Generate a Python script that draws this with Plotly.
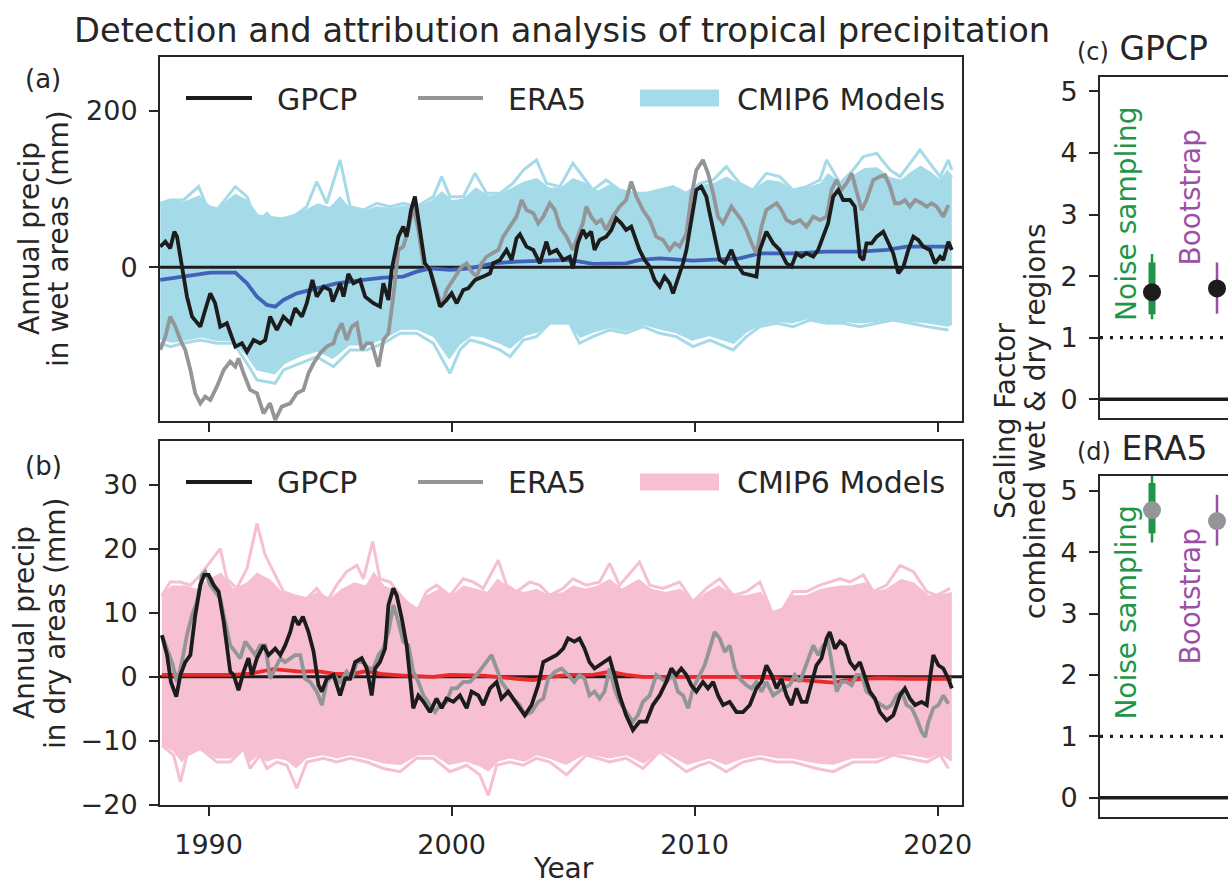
import plotly.graph_objects as go

# ---------------- data ----------------
YEAR_TICKS = [1990, 2000, 2010, 2020]
X_RANGE = [1988.0, 2021.0]

# (a) wet areas: (year, mm) pairs
GPCP_WET = [(1988.01,26.4),(1988.22,32.8),(1988.42,24.3),(1988.59,45.6),(1988.70,39.2),(1988.90,0.9),(1989.11,-37.5),(1989.32,-63.1),(1989.66,-75.9),(1989.86,-54.6),(1990.07,-33.3),(1990.27,-46.0),(1990.48,-75.9),(1990.75,-71.6),(1990.96,-88.7),(1991.10,-101.5),(1991.37,-97.2),(1991.58,-107.9),(1991.85,-93.0),(1992.12,-97.2),(1992.33,-93.0),(1992.53,-63.1),(1992.81,-80.2),(1993.08,-63.1),(1993.36,-71.6),(1993.56,-52.4),(1993.84,-63.1),(1994.04,-46.0),(1994.27,-16.2),(1994.45,-37.5),(1994.73,-24.7),(1995.00,-29.0),(1995.11,-43.9),(1995.41,-20.5),(1995.55,-37.5),(1995.75,-8.5),(1995.96,-20.5),(1996.23,-16.2),(1996.44,-37.5),(1996.78,-46.0),(1997.05,-50.3),(1997.19,-20.5),(1997.40,-41.8),(1997.53,-3.4),(1997.81,39.2),(1998.01,52.0),(1998.15,39.2),(1998.33,73.3),(1998.49,90.4),(1998.70,47.8),(1998.90,5.1),(1999.11,-3.4),(1999.32,-29.0),(1999.52,-50.3),(1999.79,-41.8),(2000.00,-33.3),(2000.21,-46.0),(2000.48,-29.0),(2000.68,-26.9),(2000.96,-16.2),(2001.30,-11.9),(2001.58,-7.7),(2001.71,5.1),(2001.99,9.4),(2002.26,22.2),(2002.47,9.4),(2002.67,37.1),(2002.81,42.2),(2003.08,26.4),(2003.36,22.2),(2003.63,5.1),(2003.90,32.8),(2004.04,17.9),(2004.32,22.2),(2004.59,9.4),(2004.86,13.6),(2004.99,-1.3),(2005.19,30.7),(2005.40,47.8),(2005.54,39.2),(2005.74,45.6),(2005.88,22.2),(2006.09,35.0),(2006.36,39.2),(2006.57,47.8),(2006.77,62.7),(2006.98,56.3),(2007.18,47.8),(2007.39,52.0),(2007.53,39.2),(2007.73,22.2),(2007.94,9.4),(2008.15,0.9),(2008.35,-16.2),(2008.56,-24.7),(2008.76,-11.9),(2008.97,-20.5),(2009.11,-33.3),(2009.31,-16.2),(2009.52,5.1),(2009.66,22.2),(2009.86,56.3),(2010.07,98.9),(2010.27,103.2),(2010.48,90.4),(2010.62,69.1),(2010.82,39.2),(2011.03,9.4),(2011.24,5.1),(2011.51,22.2),(2011.72,5.1),(2011.99,-7.7),(2012.27,-9.8),(2012.54,-11.9),(2012.68,22.2),(2012.95,45.6),(2013.23,30.7),(2013.50,22.2),(2013.78,5.1),(2013.98,0.9),(2014.19,17.9),(2014.40,13.6),(2014.60,17.9),(2014.88,13.6),(2015.08,22.2),(2015.29,39.2),(2015.49,56.3),(2015.70,90.4),(2015.91,98.9),(2016.11,86.1),(2016.39,86.1),(2016.59,77.6),(2016.80,13.6),(2016.94,9.4),(2017.07,30.7),(2017.28,30.7),(2017.49,39.2),(2017.76,45.6),(2017.97,30.7),(2018.17,17.9),(2018.38,-7.7),(2018.59,0.9),(2018.79,22.2),(2019.00,39.2),(2019.20,35.0),(2019.41,26.4),(2019.68,22.2),(2019.89,5.1),(2020.10,13.6),(2020.23,9.4),(2020.44,32.8),(2020.58,22.2)]

ERA5_WET = [(1988.01,-105.7),(1988.22,-88.7),(1988.42,-63.1),(1988.63,-75.9),(1988.84,-93.0),(1989.04,-105.7),(1989.25,-131.3),(1989.45,-161.2),(1989.66,-174.0),(1989.86,-165.4),(1990.07,-169.7),(1990.34,-152.7),(1990.62,-131.3),(1990.89,-120.7),(1991.10,-127.1),(1991.23,-116.4),(1991.44,-135.6),(1991.71,-156.9),(1991.99,-161.2),(1992.26,-186.8),(1992.53,-174.0),(1992.74,-195.3),(1993.01,-178.2),(1993.36,-174.0),(1993.63,-161.2),(1993.90,-156.9),(1994.11,-135.6),(1994.32,-122.8),(1994.59,-110.0),(1994.86,-101.5),(1995.14,-97.2),(1995.27,-84.4),(1995.48,-71.6),(1995.68,-93.0),(1995.89,-75.9),(1996.10,-71.6),(1996.30,-105.7),(1996.51,-97.2),(1996.71,-97.2),(1996.99,-127.1),(1997.19,-93.0),(1997.40,-84.4),(1997.60,-37.5),(1997.81,22.2),(1998.01,26.4),(1998.22,47.8),(1998.42,77.6),(1998.63,47.8),(1998.84,5.1),(1999.11,-3.4),(1999.38,-29.0),(1999.59,-50.3),(1999.79,-29.0),(2000.07,-16.2),(2000.41,0.9),(2000.62,5.1),(2000.82,-5.5),(2001.03,-11.9),(2001.23,5.1),(2001.44,13.6),(2001.71,17.9),(2001.92,22.2),(2002.12,39.2),(2002.40,52.0),(2002.67,64.8),(2002.88,86.1),(2003.08,73.3),(2003.36,69.1),(2003.56,56.3),(2003.77,64.8),(2004.04,81.9),(2004.25,73.3),(2004.45,52.0),(2004.73,39.2),(2004.99,22.2),(2005.19,39.2),(2005.40,56.3),(2005.54,77.6),(2005.74,64.8),(2005.95,56.3),(2006.15,60.5),(2006.36,47.8),(2006.63,64.8),(2006.91,77.6),(2007.18,86.1),(2007.39,109.6),(2007.60,90.4),(2007.87,73.3),(2008.15,60.5),(2008.42,39.2),(2008.70,35.0),(2008.97,22.2),(2009.18,30.7),(2009.38,26.4),(2009.66,43.5),(2009.86,90.4),(2010.07,124.5),(2010.34,137.3),(2010.55,120.2),(2010.76,94.7),(2010.96,64.8),(2011.17,56.3),(2011.37,69.1),(2011.51,77.6),(2011.72,69.1),(2011.92,60.5),(2012.13,47.8),(2012.34,30.7),(2012.54,17.9),(2012.75,52.0),(2012.95,73.3),(2013.16,77.6),(2013.37,81.9),(2013.57,73.3),(2013.78,60.5),(2014.05,56.3),(2014.33,60.5),(2014.60,52.0),(2014.88,64.8),(2015.15,60.5),(2015.43,64.8),(2015.63,98.9),(2015.84,111.7),(2016.04,98.9),(2016.25,107.5),(2016.46,120.2),(2016.66,98.9),(2016.87,73.3),(2017.07,86.1),(2017.35,111.7),(2017.62,116.0),(2017.83,118.1),(2018.04,103.2),(2018.24,81.9),(2018.45,81.9),(2018.65,86.1),(2018.86,77.6),(2019.07,86.1),(2019.34,81.9),(2019.55,77.6),(2019.75,81.9),(2019.96,77.6),(2020.23,64.8),(2020.44,79.7)]

MEAN_WET = [(1988.01,-16.2),(1988.97,-11.9),(1990.07,-6.8),(1991.10,-6.8),(1991.58,-20.5),(1991.99,-37.5),(1992.40,-48.2),(1992.74,-50.3),(1993.08,-41.8),(1993.63,-33.3),(1994.45,-26.9),(1995.27,-20.5),(1996.37,-16.2),(1997.19,-13.2),(1998.01,-11.9),(1998.56,-5.5),(1999.11,-1.3),(1999.93,-3.4),(2000.75,-1.3),(2001.71,5.1),(2002.67,7.2),(2003.77,8.5),(2004.86,9.4),(2005.81,4.3),(2007.18,5.1),(2007.73,9.4),(2008.56,11.5),(2009.93,8.5),(2011.03,10.2),(2011.85,11.5),(2012.68,17.9),(2014.05,17.9),(2015.43,20.0),(2016.80,20.0),(2017.90,22.2),(2018.72,26.4),(2019.55,26.4),(2020.58,26.4)]

# edges of the densely overlapping part of the model ensemble
ENS_WET_HI = [(1988.01,80),(1988.5,84),(1989.0,82),(1989.6,90),(1990.0,78),(1990.4,74),(1991.1,92),(1991.6,84),(1992.0,66),(1992.5,64),(1993.0,62),(1993.5,66),(1994.0,72),(1994.5,80),(1995.0,75),(1995.4,88),(1995.8,74),(1996.4,70),(1996.9,76),(1997.5,74),(1998.0,77),(1998.6,75),(1999.2,84),(1999.6,95),(2000.0,84),(2000.5,86),(2001.0,100),(2001.5,90),(2002.0,92),(2002.5,100),(2003.0,108),(2003.5,112),(2004.0,100),(2004.5,100),(2005.0,112),(2005.5,106),(2006.0,96),(2006.5,104),(2007.0,96),(2007.5,92),(2008.0,92),(2008.6,96),(2009.1,100),(2009.7,94),(2010.2,103),(2010.8,106),(2011.3,114),(2011.9,104),(2012.4,98),(2013.0,110),(2013.5,108),(2014.0,98),(2014.6,100),(2015.2,106),(2015.5,118),(2016.0,106),(2016.5,115),(2017.0,125),(2017.5,126),(2018.0,114),(2018.5,110),(2018.9,120),(2019.3,128),(2019.7,120),(2020.1,110),(2020.4,122),(2020.58,115)]
ENS_WET_LO = [(1988.01,-90),(1988.5,-95),(1989.0,-92),(1989.7,-88),(1990.3,-92),(1991.0,-93),(1991.6,-112),(1992.0,-130),(1992.7,-135),(1993.1,-122),(1993.8,-112),(1994.5,-106),(1995.1,-115),(1995.8,-98),(1996.5,-98),(1997.2,-90),(1997.9,-78),(1998.6,-78),(1999.3,-88),(1999.9,-115),(2000.3,-98),(2000.8,-86),(2001.3,-88),(2002.0,-96),(2002.4,-102),(2003.0,-86),(2003.5,-82),(2004.0,-70),(2004.9,-70),(2005.3,-88),(2005.8,-82),(2006.5,-76),(2007.2,-80),(2007.9,-72),(2008.6,-78),(2009.2,-82),(2009.9,-92),(2010.6,-86),(2011.6,-96),(2012.1,-82),(2012.7,-72),(2013.4,-68),(2014.0,-70),(2014.7,-64),(2015.4,-68),(2016.1,-68),(2016.8,-70),(2017.5,-68),(2018.2,-64),(2018.9,-68),(2019.6,-70),(2020.4,-74),(2020.58,-72)]
# outermost individual model lines
ENS_WET_OUT_HI = [(1988.01,81.9),(1988.42,86.1),(1988.97,86.1),(1989.59,103.2),(1989.93,77.6),(1990.34,73.3),(1991.10,103.2),(1991.58,90.4),(1991.99,56.3),(1992.40,69.1),(1992.81,56.3),(1993.49,64.8),(1994.04,77.6),(1994.45,109.6),(1994.86,81.9),(1995.41,137.3),(1995.82,77.6),(1996.37,73.3),(1996.92,81.9),(1997.47,77.6),(1998.01,81.9),(1998.56,77.6),(1999.25,90.4),(1999.59,116.0),(1999.93,90.4),(2000.48,90.4),(2000.96,120.2),(2001.44,94.7),(2001.99,94.7),(2002.53,107.5),(2002.95,124.5),(2003.49,137.3),(2003.90,107.5),(2004.45,103.2),(2004.99,133.0),(2005.40,116.0),(2005.81,98.9),(2006.36,111.7),(2006.91,98.9),(2007.46,94.7),(2008.01,94.7),(2008.56,98.9),(2009.11,103.2),(2009.66,94.7),(2010.21,107.5),(2010.76,111.7),(2011.30,128.8),(2011.85,107.5),(2012.40,98.9),(2012.95,120.2),(2013.50,116.0),(2014.05,98.9),(2014.60,103.2),(2015.15,111.7),(2015.43,137.3),(2015.98,107.5),(2016.52,124.5),(2016.94,141.6),(2017.49,145.8),(2018.04,124.5),(2018.45,116.0),(2018.86,133.0),(2019.27,150.1),(2019.68,133.0),(2020.10,116.0),(2020.44,137.3),(2020.58,124.5)]
ENS_WET_OUT_LO = [(1988.01,-97.2),(1988.42,-101.5),(1988.97,-97.2),(1989.66,-93.0),(1990.34,-97.2),(1991.03,-97.2),(1991.58,-122.8),(1991.99,-144.1),(1992.74,-148.4),(1993.08,-131.3),(1993.77,-122.8),(1994.45,-114.3),(1995.14,-127.1),(1995.82,-105.7),(1996.51,-105.7),(1997.19,-97.2),(1997.88,-84.4),(1998.56,-84.4),(1999.25,-97.2),(1999.93,-135.6),(2000.34,-105.7),(2000.75,-93.0),(2001.30,-97.2),(2001.99,-105.7),(2002.40,-114.3),(2002.95,-93.0),(2003.49,-88.7),(2004.04,-71.6),(2004.86,-71.6),(2005.26,-97.2),(2005.81,-88.7),(2006.50,-80.2),(2007.18,-84.4),(2007.87,-75.9),(2008.56,-84.4),(2009.24,-88.7),(2009.93,-101.5),(2010.62,-93.0),(2011.58,-105.7),(2012.13,-88.7),(2012.68,-75.9),(2013.37,-71.6),(2014.05,-75.9),(2014.74,-67.4),(2015.43,-71.6),(2016.11,-71.6),(2016.80,-75.9),(2017.49,-71.6),(2018.17,-67.4),(2018.86,-71.6),(2019.55,-75.9),(2020.44,-80.2)]

# (b) dry areas
GPCP_DRY = [(1988.08,6.5),(1988.29,3.4),(1988.45,-0.8),(1988.67,-3.1),(1988.84,0.3),(1989.04,2.3),(1989.25,3.4),(1989.45,9.6),(1989.66,14.3),(1989.82,15.9),(1990.00,15.9),(1990.21,14.3),(1990.41,13.3),(1990.62,8.6),(1990.89,0.8),(1991.03,0.3),(1991.23,-2.1),(1991.44,0.8),(1991.64,2.9),(1991.78,0.3),(1991.99,2.9),(1992.26,4.9),(1992.47,3.4),(1992.74,4.4),(1992.95,3.4),(1993.15,4.9),(1993.36,7.0),(1993.52,9.4),(1993.70,8.1),(1993.88,9.4),(1994.11,7.0),(1994.32,3.9),(1994.52,-1.3),(1994.66,-2.3),(1994.86,-0.3),(1995.14,0.3),(1995.41,-2.9),(1995.62,-0.3),(1995.82,-0.3),(1996.03,2.3),(1996.30,2.9),(1996.51,1.3),(1996.71,-2.9),(1996.85,1.3),(1997.05,2.3),(1997.26,4.4),(1997.40,11.2),(1997.60,13.8),(1997.74,12.7),(1997.95,9.1),(1998.15,4.9),(1998.42,-4.9),(1998.63,-2.9),(1998.84,-3.9),(1999.11,-5.5),(1999.38,-3.4),(1999.59,-4.9),(1999.79,-3.4),(2000.07,-3.9),(2000.34,-2.9),(2000.62,-4.9),(2000.82,-2.3),(2001.10,-2.9),(2001.30,-4.4),(2001.58,-1.8),(2001.85,-0.8),(2002.05,-3.4),(2002.33,-2.3),(2002.53,-3.4),(2002.81,-4.9),(2003.01,-6.0),(2003.29,-4.4),(2003.56,-1.3),(2003.77,2.3),(2004.04,2.9),(2004.32,3.4),(2004.59,4.4),(2004.79,6.0),(2005.05,5.5),(2005.26,6.0),(2005.47,4.4),(2005.67,2.3),(2005.88,1.3),(2006.09,1.8),(2006.29,2.3),(2006.50,2.9),(2006.70,0.3),(2006.91,-2.9),(2007.18,-6.0),(2007.46,-8.3),(2007.73,-7.0),(2008.01,-7.0),(2008.28,-4.4),(2008.56,-2.9),(2008.83,-0.8),(2009.04,1.3),(2009.24,0.3),(2009.45,1.3),(2009.66,0.3),(2009.86,-1.3),(2010.07,-2.3),(2010.34,-0.8),(2010.55,-1.8),(2010.76,-0.8),(2010.96,-2.9),(2011.17,-4.4),(2011.44,-3.9),(2011.72,-5.5),(2011.99,-5.5),(2012.27,-4.4),(2012.54,-1.8),(2012.75,-0.8),(2012.95,1.8),(2013.16,0.3),(2013.37,-1.8),(2013.57,-0.3),(2013.78,-2.9),(2013.98,-4.4),(2014.19,-1.8),(2014.40,-3.9),(2014.60,-3.9),(2014.81,-0.8),(2015.01,1.8),(2015.22,2.9),(2015.43,6.0),(2015.56,7.0),(2015.77,4.4),(2015.98,5.5),(2016.18,4.9),(2016.39,2.3),(2016.59,1.3),(2016.80,2.3),(2017.01,-0.3),(2017.21,-2.3),(2017.42,-3.4),(2017.62,-5.5),(2017.90,-6.8),(2018.17,-6.0),(2018.45,-2.9),(2018.65,-1.8),(2018.86,-3.4),(2019.07,-4.4),(2019.34,-3.9),(2019.55,-4.4),(2019.68,-0.3),(2019.82,3.4),(2020.03,1.8),(2020.23,1.3),(2020.44,-0.3),(2020.58,-1.8)]

ERA5_DRY = [(1988.08,6.5),(1988.29,4.4),(1988.49,2.3),(1988.70,-0.8),(1988.90,2.3),(1989.11,6.5),(1989.32,9.6),(1989.52,11.7),(1989.73,15.9),(1989.86,16.4),(1990.07,14.3),(1990.27,13.3),(1990.48,12.2),(1990.68,8.6),(1990.89,4.9),(1991.10,3.9),(1991.30,2.9),(1991.51,5.5),(1991.71,4.4),(1991.92,3.4),(1992.12,4.9),(1992.33,4.9),(1992.53,-0.3),(1992.74,1.3),(1992.95,2.9),(1993.15,2.3),(1993.36,2.9),(1993.56,3.4),(1993.77,3.4),(1993.97,-0.3),(1994.18,-0.8),(1994.45,-2.3),(1994.66,-4.4),(1994.86,-0.8),(1995.14,0.3),(1995.41,-0.8),(1995.68,0.8),(1995.89,-0.3),(1996.10,2.3),(1996.37,2.3),(1996.58,1.3),(1996.78,1.3),(1996.99,3.4),(1997.19,4.4),(1997.40,7.0),(1997.60,11.2),(1997.81,8.6),(1998.01,5.5),(1998.22,4.9),(1998.42,0.8),(1998.63,-0.8),(1998.84,-2.9),(1999.11,-4.4),(1999.32,-5.5),(1999.52,-4.4),(1999.79,-3.9),(2000.00,-1.8),(2000.21,-1.8),(2000.48,-0.8),(2000.75,-0.8),(2001.03,0.3),(2001.23,1.3),(2001.44,2.3),(2001.64,3.4),(2001.85,1.3),(2002.05,-0.8),(2002.33,-2.3),(2002.53,-3.4),(2002.81,-4.4),(2003.01,-6.0),(2003.29,-5.5),(2003.56,-3.9),(2003.77,-3.4),(2003.97,-0.3),(2004.25,0.8),(2004.52,1.3),(2004.79,0.3),(2005.05,-0.8),(2005.26,0.3),(2005.47,-0.3),(2005.67,-2.9),(2005.88,-2.3),(2006.09,-3.4),(2006.29,-2.3),(2006.50,1.3),(2006.70,-1.8),(2006.91,-3.9),(2007.18,-5.5),(2007.46,-7.0),(2007.66,-6.0),(2007.87,-3.9),(2008.15,-2.9),(2008.42,0.3),(2008.63,-0.3),(2008.83,-0.8),(2009.11,0.3),(2009.31,-2.3),(2009.52,-2.9),(2009.73,-4.9),(2009.93,-1.8),(2010.21,0.3),(2010.41,1.8),(2010.62,4.4),(2010.82,7.0),(2011.03,6.0),(2011.24,3.9),(2011.44,4.9),(2011.65,1.3),(2011.85,-0.3),(2012.13,-1.3),(2012.34,-1.8),(2012.54,-0.8),(2012.75,-2.3),(2012.95,-0.8),(2013.23,-2.9),(2013.43,-2.3),(2013.64,-1.8),(2013.91,-1.3),(2014.12,0.3),(2014.33,-0.8),(2014.53,1.3),(2014.74,3.4),(2014.88,4.9),(2015.08,3.4),(2015.29,4.9),(2015.49,5.5),(2015.63,2.3),(2015.84,-2.3),(2016.04,-0.8),(2016.25,-0.8),(2016.46,-1.3),(2016.66,0.3),(2016.87,0.3),(2017.07,-2.3),(2017.28,-2.9),(2017.49,-3.9),(2017.69,-4.4),(2017.90,-4.9),(2018.10,-4.4),(2018.31,-2.9),(2018.52,-2.3),(2018.72,-4.4),(2018.93,-4.9),(2019.13,-6.5),(2019.34,-8.6),(2019.48,-9.4),(2019.62,-7.0),(2019.82,-4.9),(2020.03,-4.4),(2020.23,-2.9),(2020.44,-4.2)]

MEAN_DRY = [(1988.08,0.3),(1989.66,0.3),(1991.03,0.3),(1991.71,0.5),(1992.67,1.2),(1993.77,0.8),(1994.45,0.9),(1995.14,0.5),(1995.82,0.4),(1996.51,0.9),(1997.19,0.4),(1998.01,0.2),(1999.25,0.0),(1999.93,0.3),(2001.30,0.2),(2002.67,-0.3),(2003.36,-0.5),(2004.04,0.0),(2004.86,0.3),(2005.81,0.3),(2006.50,0.8),(2007.18,0.3),(2007.87,0.0),(2009.24,0.0),(2010.62,0.0),(2011.99,0.0),(2013.37,-0.2),(2014.05,-0.4),(2015.15,-0.8),(2015.70,-0.9),(2016.25,-0.5),(2017.49,-0.2),(2018.86,-0.3),(2020.58,-0.3)]

ENS_DRY_HI = [(1988.08,12.5),(1988.5,14),(1989.0,14),(1989.5,13.5),(1990.0,15),(1990.5,16),(1991.0,13.5),(1991.6,14.5),(1992.0,16),(1992.5,15),(1993.0,13),(1993.5,12.5),(1994.0,12),(1994.5,13),(1995.0,12),(1995.5,13.5),(1996.0,14.5),(1996.5,14),(1996.8,16),(1997.2,14),(1997.6,13.5),(1998.0,12),(1998.6,10.5),(1999.0,12.5),(1999.5,13.5),(2000.0,12.5),(2000.5,14),(2001.0,13.5),(2001.5,13),(2001.9,15),(2002.4,13.5),(2003.0,13),(2003.5,13.5),(2004.0,12.5),(2004.6,13),(2005.0,14),(2005.5,13.5),(2006.0,14),(2006.5,15),(2007.0,13.5),(2007.7,15),(2008.2,13.5),(2008.8,13),(2009.4,13.5),(2010.0,11.5),(2010.5,13),(2011.0,14),(2011.6,12.5),(2012.1,12.5),(2012.7,13),(2013.2,10),(2013.6,10.5),(2014.0,12.5),(2014.6,12.5),(2015.2,13.5),(2016.0,14),(2016.4,14),(2017.0,14.5),(2017.4,13),(2017.9,13.5),(2018.5,15),(2019.0,14.5),(2019.6,12.5),(2020.0,12.5),(2020.58,13)]
ENS_DRY_LO = [(1988.08,-10.3),(1988.6,-11.5),(1988.9,-13),(1989.2,-11.5),(1989.7,-11),(1990.3,-12.5),(1990.9,-12.5),(1991.4,-11),(1991.7,-13),(1992.1,-11.8),(1992.4,-13),(1992.8,-12.5),(1993.2,-12.8),(1993.6,-14),(1994.0,-12.5),(1994.7,-12),(1995.3,-12.5),(1995.8,-12),(1996.5,-12.5),(1997.2,-13.3),(1997.9,-13.5),(1998.6,-12),(1999.3,-12),(1999.9,-13.5),(2000.6,-13),(2001.2,-13.8),(2001.5,-14.5),(2001.9,-13),(2002.4,-12.5),(2003.0,-13),(2003.5,-12),(2004.0,-12.5),(2004.7,-13.5),(2005.5,-11.8),(2006.5,-12.5),(2007.2,-12),(2007.9,-13.3),(2008.6,-11.3),(2009.7,-13.5),(2010.2,-13),(2010.6,-12.5),(2011.3,-13.5),(2012.0,-12.5),(2012.7,-12),(2013.4,-12.5),(2014.0,-12.5),(2015.0,-13.3),(2015.7,-13.5),(2016.5,-12.5),(2017.5,-12.5),(2018.2,-11.8),(2018.9,-12),(2019.6,-12.5),(2020.1,-11.8),(2020.58,-13)]
ENS_DRY_OUT_HI = [(1988.08,12.7),(1988.42,14.8),(1988.84,14.8),(1989.25,14.3),(1989.66,15.9),(1990.07,17.9),(1990.48,20.0),(1990.75,15.3),(1991.16,13.8),(1991.58,16.9),(1991.99,23.9),(1992.33,19.0),(1992.67,16.4),(1993.08,13.3),(1993.49,12.7),(1994.04,12.2),(1994.45,13.8),(1994.86,11.7),(1995.27,14.3),(1995.68,16.4),(1996.10,17.4),(1996.37,15.3),(1996.75,21.1),(1997.05,15.3),(1997.47,14.8),(1998.01,12.2),(1998.56,10.1),(1998.97,13.3),(1999.38,14.3),(1999.93,12.7),(2000.48,15.3),(2000.89,14.8),(2001.30,13.8),(2001.92,18.2),(2002.26,14.3),(2002.67,13.3),(2003.22,14.8),(2003.63,14.3),(2004.04,12.7),(2004.59,13.8),(2004.99,15.3),(2005.54,14.3),(2006.09,14.8),(2006.50,17.7),(2006.91,14.3),(2007.73,17.9),(2008.15,14.3),(2008.70,13.8),(2009.38,14.8),(2009.93,11.7),(2010.48,13.8),(2011.03,15.3),(2011.58,12.7),(2012.13,13.3),(2012.68,14.8),(2013.23,9.6),(2013.64,10.7),(2014.05,13.3),(2014.60,13.3),(2015.15,14.3),(2015.98,15.3),(2016.39,14.8),(2016.94,15.9),(2017.35,13.3),(2017.90,14.3),(2018.45,17.4),(2019.00,16.4),(2019.55,13.3),(2019.96,12.7),(2020.51,13.8)]
ENS_DRY_OUT_LO = [(1988.08,-10.7),(1988.56,-12.2),(1988.84,-16.4),(1989.11,-12.2),(1989.66,-11.2),(1990.34,-13.3),(1990.89,-13.3),(1991.44,-11.2),(1991.71,-14.3),(1992.12,-12.2),(1992.40,-14.3),(1992.81,-13.3),(1993.22,-13.8),(1993.63,-17.4),(1994.04,-13.3),(1994.73,-12.7),(1995.27,-13.3),(1995.82,-12.7),(1996.51,-13.3),(1997.19,-14.3),(1997.88,-14.8),(1998.56,-12.7),(1999.25,-12.7),(1999.93,-14.8),(2000.62,-13.8),(2001.16,-15.3),(2001.51,-18.5),(2001.85,-13.8),(2002.40,-13.3),(2002.95,-13.8),(2003.49,-12.7),(2004.04,-13.3),(2004.73,-15.3),(2005.54,-12.2),(2006.50,-13.3),(2007.18,-12.7),(2007.87,-14.3),(2008.56,-11.7),(2009.66,-14.8),(2010.21,-13.8),(2010.62,-13.3),(2011.30,-14.8),(2011.99,-13.3),(2012.68,-12.7),(2013.37,-13.3),(2014.05,-13.3),(2015.01,-14.3),(2015.70,-14.8),(2016.52,-13.3),(2017.49,-13.3),(2018.17,-12.2),(2018.86,-12.7),(2019.55,-13.3),(2020.10,-12.2),(2020.44,-14.3)]

# (c)/(d) scaling factors
SF_METHODS = ["Noise sampling", "Bootstrap"]
GPCP_SF_BEST = [1.74, 1.80]
GPCP_SF_LO = [1.30, 1.39]
GPCP_SF_HI = [2.36, 2.22]
GPCP_NOISE_CORE = (1.38, 2.22)
ERA5_SF_BEST = [4.69, 4.51]
ERA5_SF_LO = [4.16, 4.11]
ERA5_SF_HI = [5.35, 4.94]
ERA5_NOISE_CORE = (4.31, 5.13)

# ---------------- styling ----------------
W, H = 1228, 885
FONT = "DejaVu Sans"
INK = "#262626"
BLACK = "#1c1c1c"
GREY = "#939598"
BLUE_ENS = "#a5dbe9"
BLUE_MEAN = "#4262b8"
PINK_ENS = "#f6bfd2"
RED_MEAN = "#ec2a2a"
GREEN = "#1f9548"
PURPLE = "#9c4fa6"


def px(x):
    return x / W


def py(y):
    return 1 - y / H


fig = go.Figure()


def line(pairs, xa, ya, color, width, **kw):
    fig.add_trace(go.Scatter(
        x=[p[0] for p in pairs], y=[p[1] for p in pairs], mode="lines",
        line=dict(color=color, width=width), xaxis=xa, yaxis=ya,
        showlegend=False, hoverinfo="skip", **kw))


def panel(xa, ya, lo, hi, out_hi, out_lo, ens_col, mean, mean_col, era5, gpcp):
    line(lo, xa, ya, ens_col, 3)
    line(hi, xa, ya, ens_col, 3, fill="tonexty", fillcolor=ens_col)
    line(out_hi, xa, ya, ens_col, 3)
    line(out_lo, xa, ya, ens_col, 3)
    fig.add_trace(go.Scatter(x=X_RANGE, y=[0, 0], mode="lines", xaxis=xa, yaxis=ya,
                             line=dict(color=BLACK, width=3), showlegend=False,
                             hoverinfo="skip"))
    line(mean, xa, ya, mean_col, 3.8)
    line(era5, xa, ya, GREY, 3.8)
    line(gpcp, xa, ya, BLACK, 3.8)


panel("x", "y", ENS_WET_LO, ENS_WET_HI, ENS_WET_OUT_HI, ENS_WET_OUT_LO, BLUE_ENS,
      MEAN_WET, BLUE_MEAN, ERA5_WET, GPCP_WET)
panel("x2", "y2", ENS_DRY_LO, ENS_DRY_HI, ENS_DRY_OUT_HI, ENS_DRY_OUT_LO, PINK_ENS,
      MEAN_DRY, RED_MEAN, ERA5_DRY, GPCP_DRY)


def sf_panel(xa, ya, best, lo, hi, core, marker_col):
    colors = [GREEN, PURPLE]
    for i, m in enumerate(SF_METHODS):
        fig.add_trace(go.Scatter(
            x=[m], y=[best[i]], mode="markers", xaxis=xa, yaxis=ya,
            marker=dict(size=2, color="rgba(0,0,0,0)"),
            error_y=dict(type="data", symmetric=False, array=[hi[i] - best[i]],
                         arrayminus=[best[i] - lo[i]], color=colors[i],
                         thickness=2.5, width=0),
            showlegend=False, hoverinfo="skip"))
    fig.add_trace(go.Scatter(
        x=[SF_METHODS[0]], y=[best[0]], mode="markers", xaxis=xa, yaxis=ya,
        marker=dict(size=2, color="rgba(0,0,0,0)"),
        error_y=dict(type="data", symmetric=False, array=[core[1] - best[0]],
                     arrayminus=[best[0] - core[0]], color=GREEN,
                     thickness=7, width=0),
        showlegend=False, hoverinfo="skip"))
    fig.add_trace(go.Scatter(
        x=SF_METHODS, y=best, mode="markers", xaxis=xa, yaxis=ya,
        marker=dict(size=18, color=marker_col, line=dict(width=0)),
        showlegend=False, hoverinfo="skip"))


sf_panel("x3", "y3", GPCP_SF_BEST, GPCP_SF_LO, GPCP_SF_HI, GPCP_NOISE_CORE, BLACK)
sf_panel("x4", "y4", ERA5_SF_BEST, ERA5_SF_LO, ERA5_SF_HI, ERA5_NOISE_CORE, GREY)

# ---------------- axes ----------------
tickfont = dict(family=FONT, size=27, color=INK)
common = dict(showgrid=False, zeroline=False, showline=True, linecolor=INK,
              linewidth=2, ticks="outside", ticklen=9, tickwidth=1.8,
              tickcolor=INK, tickfont=tickfont, automargin=False)
sf_x = dict(domain=[px(1100), 1.0], type="category", categoryorder="array",
            categoryarray=SF_METHODS, range=[-0.8, 1.169], showgrid=False,
            zeroline=False, showline=True, linecolor=INK, linewidth=2,
            mirror=True, ticks="", showticklabels=False, automargin=False)

xdom = [px(160), px(962)]
fig.update_layout(
    xaxis=dict(domain=xdom, anchor="y", range=X_RANGE, tickvals=YEAR_TICKS,
               showticklabels=False, mirror=True, **common),
    yaxis=dict(domain=[py(421), py(57)], anchor="x", range=[-196.6, 269],
               tick0=0, dtick=200, mirror=True, ticklabelstandoff=6, **common),
    xaxis2=dict(domain=xdom, anchor="y2", range=X_RANGE, tickvals=YEAR_TICKS,
                mirror=True, ticklabelstandoff=6, **common),
    yaxis2=dict(domain=[py(805), py(441)], anchor="x2", range=[-20, 36.8],
                tick0=0, dtick=10, mirror=True, ticklabelstandoff=6, **common),
    xaxis3=dict(anchor="y3", **sf_x),
    yaxis3=dict(domain=[py(417.7), py(77.3)], anchor="x3", range=[-0.30, 5.23],
                tick0=0, dtick=1, ticklabelstandoff=6, **common),
    xaxis4=dict(anchor="y4", **sf_x),
    yaxis4=dict(domain=[py(816.7), py(475.7)], anchor="x4", range=[-0.31, 5.25],
                tick0=0, dtick=1, ticklabelstandoff=6, **common),
)

shapes = []
for xa, ya in (("x3", "y3"), ("x4", "y4")):
    shapes.append(dict(type="line", xref=f"{xa} domain", yref=ya, x0=0, x1=1,
                       y0=0, y1=0, line=dict(color=BLACK, width=3.5), layer="above"))
    shapes.append(dict(type="line", xref=f"{xa} domain", yref=ya, x0=0, x1=1,
                       y0=1, y1=1, line=dict(color=BLACK, width=3.2, dash="3px,7px"),
                       layer="above"))

annotations = []


def text(t, x, y, size, color=INK, angle=0, xanchor="center", yanchor="middle",
         xref="paper", yref="paper"):
    annotations.append(dict(text=t, x=x, y=y, xref=xref, yref=yref, showarrow=False,
                            textangle=angle, xanchor=xanchor, yanchor=yanchor,
                            font=dict(family=FONT, size=size, color=color)))


# legends (drawn by hand so the key samples match the original size)
for yc, ens_col in ((98, BLUE_ENS), (482, PINK_ENS)):
    shapes.append(dict(type="line", xref="paper", yref="paper", x0=px(186), x1=px(252),
                       y0=py(yc), y1=py(yc), line=dict(color=BLACK, width=4)))
    shapes.append(dict(type="line", xref="paper", yref="paper", x0=px(418), x1=px(483),
                       y0=py(yc), y1=py(yc), line=dict(color=GREY, width=4)))
    shapes.append(dict(type="rect", xref="paper", yref="paper", x0=px(640), x1=px(719),
                       y0=py(yc + 8.5), y1=py(yc - 8.5), fillcolor=ens_col,
                       line=dict(width=0)))
    text("GPCP", px(275), py(yc + 1), 30, xanchor="left")
    text("ERA5", px(506), py(yc + 1), 30, xanchor="left")
    text("CMIP6 Models", px(735), py(yc + 1), 30, xanchor="left")

text("Detection and attribution analysis of tropical precipitation", px(562), py(30), 33.7)
text("(a)", px(43), py(79), 26)
text("(b)", px(43), py(466), 26)
text("<span style='font-size:24px'>(c)</span> GPCP", px(1075), py(48.5), 33,
     xanchor="left")
text("<span style='font-size:24px'>(d)</span> ERA5", px(1075), py(448), 33,
     xanchor="left")
text("Annual precip", px(29), py(239), 28, angle=-90)
text("in wet areas (mm)", px(58), py(239), 28, angle=-90)
text("Annual precip", px(24), py(623), 28, angle=-90)
text("in dry areas (mm)", px(55), py(623), 28, angle=-90)
text("Scaling Factor", px(1005), py(421), 28, angle=-90)
text("combined wet & dry regions", px(1035), py(421), 28, angle=-90)
text("Year", px(563), py(868), 28)

for xa, ya in (("x3", "y3"), ("x4", "y4")):
    text("Noise sampling", -0.385, 1.24, 28, color=GREEN, angle=-90,
         yanchor="bottom", xref=xa, yref=ya)
    text("Bootstrap", 0.585, 2.14, 28, color=PURPLE, angle=-90,
         yanchor="bottom", xref=xa, yref=ya)

fig.update_layout(
    width=W, height=H, margin=dict(l=0, r=0, t=0, b=0, autoexpand=False),
    paper_bgcolor="white", plot_bgcolor="white",
    font=dict(family=FONT, color=INK), showlegend=False,
    shapes=shapes, annotations=annotations,
)

# drop the browser's default 8 px body margin so the figure sits at the page origin
fig.write_html(
    "out.html",
    config={"displayModeBar": False},
    post_script="document.body.style.margin='0';",
)
